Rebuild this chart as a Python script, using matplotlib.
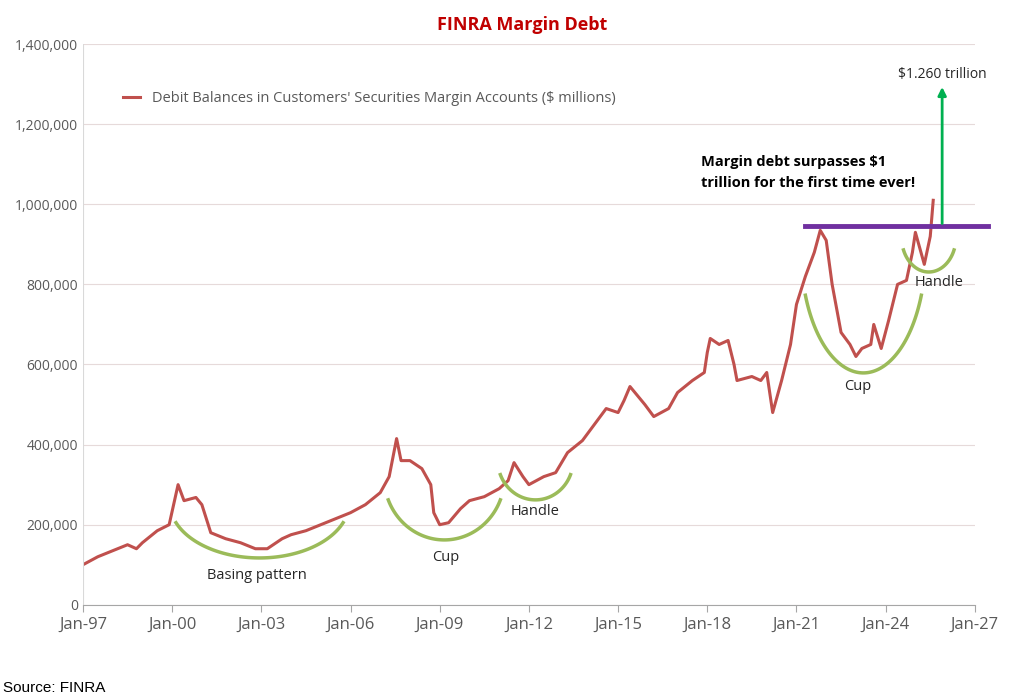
import matplotlib
matplotlib.use("Agg")
import matplotlib.pyplot as plt
import numpy as np

plt.rcParams['font.family'] = ['Open Sans', 'DejaVu Sans']

years = [1997.0,1997.5,1998.0,1998.5,1998.8,1999.0,1999.5,1999.9,2000.2,2000.4,2000.8,2001.0,2001.3,2001.8,2002.3,2002.8,2003.2,2003.7,2004.0,2004.5,2005.0,2005.5,2006.0,2006.5,2007.0,2007.3,2007.55,2007.7,2008.0,2008.4,2008.7,2008.8,2009.0,2009.3,2009.7,2010.0,2010.5,2011.0,2011.3,2011.5,2011.8,2012.0,2012.5,2012.9,2013.3,2013.8,2014.2,2014.6,2015.0,2015.2,2015.4,2015.9,2016.2,2016.7,2017.0,2017.5,2017.9,2018.0,2018.1,2018.4,2018.7,2018.9,2019.0,2019.5,2019.8,2020.0,2020.2,2020.5,2020.8,2021.0,2021.3,2021.6,2021.8,2022.0,2022.2,2022.5,2022.8,2023.0,2023.2,2023.5,2023.6,2023.85,2024.1,2024.4,2024.7,2024.9,2025.0,2025.3,2025.5,2025.6]
debt = [100,120,135,150,140,155,185,200,300,260,268,250,180,165,155,140,140,165,175,185,200,215,230,250,280,320,415,360,360,340,300,230,200,205,240,260,270,290,310,355,320,300,320,330,380,410,450,490,480,510,545,500,470,490,530,560,580,630,665,650,660,600,560,570,560,580,480,560,650,750,820,880,935,910,800,680,650,620,640,650,700,640,710,800,810,880,930,850,920,1010]
debt = [v*1000 for v in debt]

arcs = [  # (x0, x1, end level, bottom level)
    (2000.13, 2005.75, 205e3, 117e3),
    (2007.27, 2011.04, 262e3, 162e3),
    (2011.04, 2013.40, 325e3, 262e3),
    (2021.30, 2025.20, 773e3, 579e3),
    (2024.60, 2026.30, 886e3, 831e3),
]
arc_labels = [("Basing pattern", 2002.85, 72e3), ("Cup", 2009.2, 117e3), ("Handle", 2012.2, 232e3),
              ("Cup", 2023.07, 544e3), ("Handle", 2025.8, 804e3)]

fig = plt.figure(figsize=(10.24, 7.0), dpi=100)
ax = fig.add_axes([0.081, 0.136, 0.871, 0.801])
ax.plot(years, debt, color='#c0504d', lw=2.2, label="Debit Balances in Customers' Securities Margin Accounts ($ millions)")
ax.set_xlim(1997, 2027)
ax.set_ylim(0, 1.4e6)
ax.set_yticks(np.arange(0, 1.4e6+1, 2e5))
ax.set_yticklabels([f"{int(v):,}" for v in np.arange(0, 1.4e6+1, 2e5)], fontsize=10, color='#595959')
xt = list(range(1997, 2028, 3))
ax.set_xticks(xt)
ax.set_xticklabels([f"Jan-{y%100:02d}" for y in xt], fontsize=12, color='#595959')
ax.grid(axis='y', color='#e6dada', lw=0.8)
for s in ['top', 'right', 'left']:
    ax.spines[s].set_visible(False)
ax.spines['bottom'].set_color('#a6a6a6')
ax.tick_params(axis='y', length=0)
ax.tick_params(axis='x', color='#a6a6a6', length=5)
ax.axvline(1997, color='#d9d9d9', lw=0.8)

t0, t1 = 1.12*np.pi, 1.88*np.pi
t = np.linspace(t0, t1, 100)
for x0, x1, top, bot in arcs:
    c = (x0+x1)/2; a = (x1-x0)/2/abs(np.cos(t0))
    d = (top-bot)/(1-abs(np.sin(t0)))
    ax.plot(c + a*np.cos(t), bot + d + d*np.sin(t), color='#9bbb59', lw=2.5)
for txt, x, y in arc_labels:
    ax.text(x, y, txt, ha='center', va='center', fontsize=10.5, color='#262626')

ax.plot([2021.3, 2027.45], [945e3, 945e3], color='#7030a0', lw=3.5, clip_on=False)
ax.annotate('', xy=(2025.9, 1.3e6), xytext=(2025.9, 945e3),
            arrowprops=dict(arrowstyle='-|>', color='#00b050', lw=2, mutation_scale=12))
ax.text(2025.9, 1.323e6, "$1.260 trillion", ha='center', va='center', fontsize=10, color='#262626')
ax.text(2017.8, 1.08e6, "Margin debt surpasses $1\ntrillion for the first time ever!", ha='left', va='center',
        fontsize=10.5, fontweight='bold', color='#000000', linespacing=1.6)

ax.legend(loc='upper left', bbox_to_anchor=(0.03, 0.94), frameon=False, fontsize=10.5, labelcolor='#595959',
          handlelength=1.2)
fig.text(0.51, 0.965, "FINRA Margin Debt", ha='center', va='center', fontsize=13, fontweight='bold', color='#c00000')
fig.text(0.003, 0.017, "Source: FINRA", ha='left', va='center', fontsize=11, family='Liberation Sans')
fig.savefig('out.png', dpi=100, facecolor='white')
